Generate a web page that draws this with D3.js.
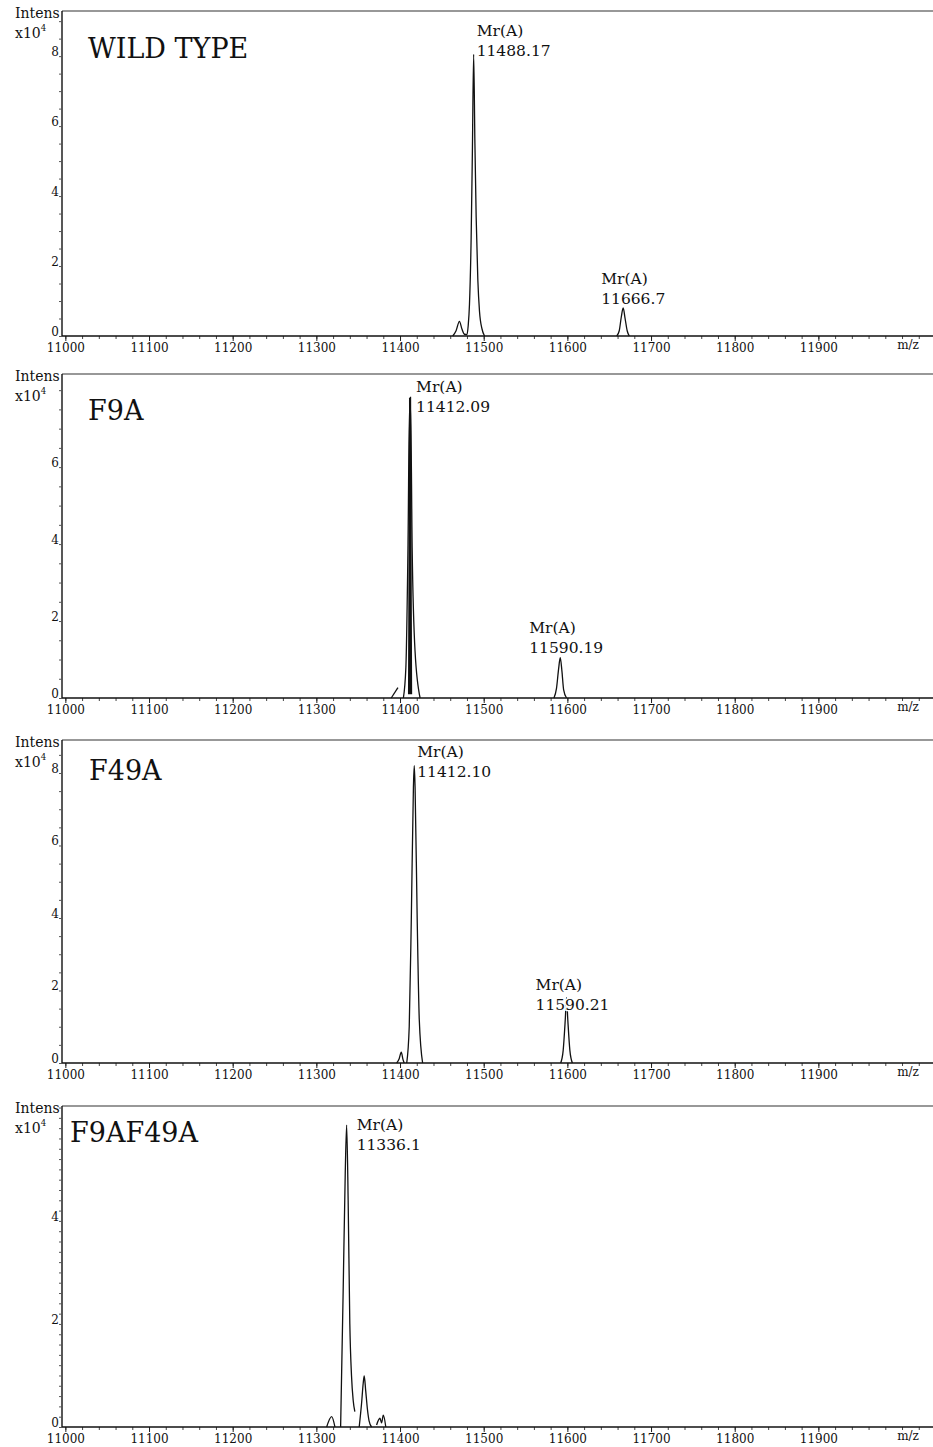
<!DOCTYPE html>
<html>
<head>
<meta charset="utf-8">
<script src="https://cdn.jsdelivr.net/npm/d3@7"></script>
<style>
  body { margin: 0; background: #fff; }
  text { font-family: "DejaVu Serif", serif; fill: #111; }
</style>
</head>
<body>
<script>
//Variables
    const width = 933;
    const height = 1447;

//Data
    const panelNames = ["WILD TYPE", "F9A", "F49A", "F9AF49A"];
    const xTickValues = [11000, 11100, 11200, 11300, 11400, 11500, 11600, 11700, 11800, 11900];
    const yTickValues = [[0, 2, 4, 6, 8], [0, 2, 4, 6], [0, 2, 4, 6, 8], [0, 2, 4]];
    const yMaxValues = [9.29, 8.42, 8.91, 6.23];

    // spectra: list of segments, each a list of [m/z, intensity x10^4]
    const wtTrace = [
        [[11463, 0], [11467, 0.15], [11471, 0.42], [11474, 0.2], [11477, 0.05], [11480, 0.04],
         [11481.5, 0.3], [11483, 0.9], [11485, 2.8], [11486.5, 5.3], [11488, 8.05], [11489.5, 5.5],
         [11491, 3.4], [11493, 1.6], [11495, 0.7], [11498, 0.2], [11501, 0]],
        [[11659, 0], [11662, 0.15], [11664.5, 0.55], [11666.7, 0.8], [11669, 0.5], [11671.5, 0.15], [11674, 0]]
    ];
    const f9aTrace = [
        [[11389.5, 0], [11397.5, 0.27]],
        [[11404, 0], [11407, 0.8], [11409.5, 3.9], [11411.4, 7.6], [11412.6, 7.6], [11414.5, 3.9], [11418, 1.2], [11424, 0]],
        [[11584, 0], [11587, 0.25], [11589.5, 0.75], [11591.5, 1.05], [11593.5, 0.7], [11595.5, 0.22], [11599, 0]]
    ];
    const f9aCore = [[11410.8, 0.1], [11411.5, 4], [11412, 7.8], [11412.5, 4], [11413.2, 0.1]];
    const f49aTrace = [
        [[11396, 0], [11399, 0.12], [11401.5, 0.3], [11403.5, 0.1], [11405, 0]],
        [[11408, 0], [11411, 1], [11413.5, 4], [11416, 7.6], [11417, 8.2], [11418, 7.6], [11420.5, 4], [11423, 1.2], [11427, 0]],
        [[11592, 0], [11595, 0.35], [11597.5, 1.2], [11599, 1.8], [11600.5, 1.2], [11603, 0.35], [11606, 0]]
    ];
    const dmTrace = [
        [[11312.3, 0], [11318.3, 0.2], [11322.2, 0]],
        [[11329, 0], [11332, 2.6], [11334.5, 4.9], [11336.2, 5.86], [11338, 4.4], [11340, 2.0],
         [11342, 1.0], [11344, 0.52], [11346, 0.3]],
        [[11351.2, 0], [11354, 0.45], [11356, 0.85], [11357.2, 0.99], [11359, 0.7], [11361, 0.35], [11363, 0.12], [11366, 0]],
        [[11372, 0.04], [11376, 0.17], [11378, 0.08], [11380, 0.23], [11383, 0]]
    ];

    // annotated peaks: [m/z, intensity, label]
    const wtPeaks = [[11488, 8.05, "11488.17"], [11666.7, 0.8, "11666.7"]];
    const f9aPeaks = [[11412, 7.8, "11412.09"], [11591.5, 1.05, "11590.19"]];
    const f49aPeaks = [[11417, 8.2, "11412.10"], [11599, 1.8, "11590.21"]];
    const dmPeaks = [[11336.2, 5.86, "11336.1"]];

    const traces = [wtTrace, f9aTrace, f49aTrace, dmTrace];
    const peaks = [wtPeaks, f9aPeaks, f49aPeaks, dmPeaks];

//Layout
    const panels = [
        {top: 11, base: 336, titleY: 58, titleX: 88},
        {top: 374, base: 698, titleY: 420, titleX: 88},
        {top: 740, base: 1063, titleY: 780, titleX: 89},
        {top: 1106, base: 1427, titleY: 1142, titleX: 70}
    ];
    const labelOffsets = [
        [[3, -18], [-22, -24]],
        [[6, -6], [-31, -25]],
        [[3, -9], [-31, -8]],
        [[10, 5]]
    ];
    const minorStepY = [0.5, 0.5, 0.5, 0.2];
    const left = 62;

//Svg created
    const svg = d3.select("body")
                    .append("svg")
                    .attr("width", width)
                    .attr("height", height);

    const x = d3.scaleLinear().domain([10996, 12037]).range([left, width]);

    const line = d3.line()
                    .x(d => x(d[0]))
                    .curve(d3.curveMonotoneX);

    panels.forEach((p, i) => {
        const g = svg.append("g");
        const y = d3.scaleLinear().domain([0, yMaxValues[i]]).range([p.base, p.top]);
        line.y(d => y(d[1]));

//Frame
        g.append("line").attr("x1", left).attr("x2", width).attr("y1", p.top).attr("y2", p.top)
            .attr("stroke", "#333").attr("stroke-width", 1.2);
        g.append("line").attr("x1", left).attr("x2", left).attr("y1", p.top).attr("y2", p.base)
            .attr("stroke", "#111").attr("stroke-width", 1.4);

//X axis
        const minorX = d3.range(11000, 12040, 20);
        g.append("g")
            .attr("transform", `translate(0,${p.base})`)
            .call(d3.axisBottom(x).tickValues(minorX).tickSize(3).tickFormat(""))
            .call(a => a.select(".domain").remove())
            .call(a => a.selectAll("line").attr("stroke", "#444"));
        g.append("g")
            .attr("transform", `translate(0,${p.base})`)
            .call(d3.axisBottom(x).tickValues(xTickValues).tickSize(5).tickPadding(2).tickFormat(d3.format("d")))
            .call(a => a.select(".domain").remove())
            .call(a => a.selectAll("line").attr("stroke", "#222"))
            .call(a => a.selectAll("text").attr("font-size", 12).attr("font-family", "DejaVu Serif").attr("fill", "#111"));
        g.append("line").attr("x1", left).attr("x2", width).attr("y1", p.base).attr("y2", p.base)
            .attr("stroke", "#111").attr("stroke-width", 1.4);
        g.append("text").attr("x", 908).attr("y", p.base + 13)
            .attr("text-anchor", "middle").attr("font-size", 12).text("m/z");

//Y axis
        const minorY = d3.range(0, yMaxValues[i], minorStepY[i]);
        g.append("g")
            .attr("transform", `translate(${left},0)`)
            .call(d3.axisLeft(y).tickValues(minorY).tickSize(3).tickFormat(""))
            .call(a => a.select(".domain").remove())
            .call(a => a.selectAll("line").attr("stroke", "#555"));
        g.selectAll(".ylab")
            .data(yTickValues[i])
            .enter()
            .append("text")
            .attr("x", left - 3)
            .attr("y", d => y(d))
            .attr("text-anchor", "end")
            .attr("font-size", 12)
            .text(d => d);

        g.append("text").attr("x", 15).attr("y", p.top + 7).attr("font-size", 14).text("Intens");
        const xt = g.append("text").attr("x", 15).attr("y", p.top + 27).attr("font-size", 14);
        xt.append("tspan").text("x10");
        xt.append("tspan").attr("font-size", 8.5).attr("dy", -7).text("4");

//Spectrum
        g.selectAll(".seg")
            .data(traces[i])
            .enter()
            .append("path")
            .attr("d", line)
            .attr("fill", "none")
            .attr("stroke", "#111")
            .attr("stroke-width", 1.3);
        if (i === 1) {
            g.append("path").attr("d", line(f9aCore))
                .attr("fill", "none").attr("stroke", "#111").attr("stroke-width", 2.2);
        }

//Peak labels (white halo like the instrument software)
        peaks[i].forEach((pk, j) => {
            const [dx, dy] = labelOffsets[i][j];
            const t = g.append("text")
                .attr("x", x(pk[0]) + dx)
                .attr("y", y(pk[1]) + dy)
                .attr("font-size", 15.5)
                .attr("stroke", "#fff")
                .attr("stroke-width", 3)
                .attr("paint-order", "stroke");
            t.append("tspan").text("Mr(A)");
            t.append("tspan").attr("x", x(pk[0]) + dx).attr("dy", 20).text(pk[2]);
        });

//Title
        g.append("text").attr("x", p.titleX).attr("y", p.titleY)
            .attr("font-size", 27).text(panelNames[i]);
    });
</script>
</body>
</html>
